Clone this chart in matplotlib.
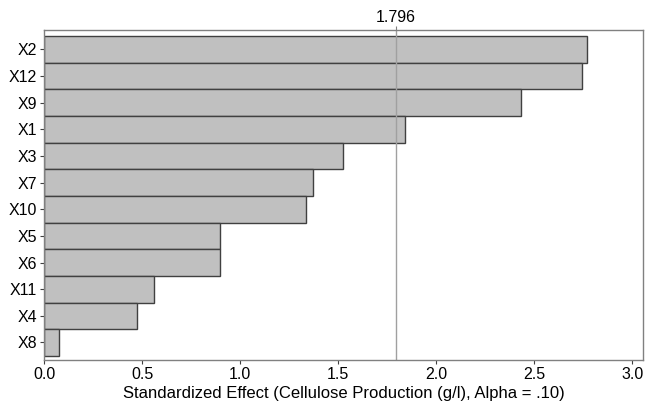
import matplotlib.pyplot as plt

terms = ["X2", "X12", "X9", "X1", "X3", "X7", "X10", "X5", "X6", "X11", "X4", "X8"]
effects = [2.771, 2.746, 2.431, 1.840, 1.523, 1.370, 1.338, 0.897, 0.897, 0.563, 0.475, 0.078]
ref_value = 1.796
x_ticks = [0.0, 0.5, 1.0, 1.5, 2.0, 2.5, 3.0]

plt.rcParams['font.family'] = ['Liberation Sans', 'DejaVu Sans']

fig = plt.figure(figsize=(6.51, 4.12), dpi=100)
ax = fig.add_axes([0.0676, 0.126, 0.92, 0.801])

# top term drawn at top
ypos = list(range(len(terms)))[::-1]
ax.barh(ypos, effects, height=1.0, color="#c0c0c0", edgecolor="#404040", linewidth=1.0)
ax.axvline(ref_value, color="#a0a0a0", linewidth=1.0)

ax.set_xlim(0, 3.055)
ax.set_ylim(-0.66, 11.72)
ax.set_yticks(ypos)
ax.set_yticklabels(terms, fontsize=11.5)
ax.set_xticks(x_ticks)
ax.set_xticklabels([f"{t:.1f}" for t in x_ticks], fontsize=11.5)
ax.tick_params(length=3, color="#404040", pad=2)
ax.set_xlabel("Standardized Effect (Cellulose Production (g/l), Alpha = .10)", fontsize=12, labelpad=3)

top = ax.secondary_xaxis('top')
top.set_xticks([ref_value])
top.set_xticklabels([f"{ref_value:.3f}"], fontsize=11.5)
top.tick_params(length=3, color="#808080", pad=1)

for s in ax.spines.values():
    s.set_color("#808080")
    s.set_linewidth(1.0)
top.spines['top'].set_visible(False)

fig.savefig("out.png", dpi=100)
